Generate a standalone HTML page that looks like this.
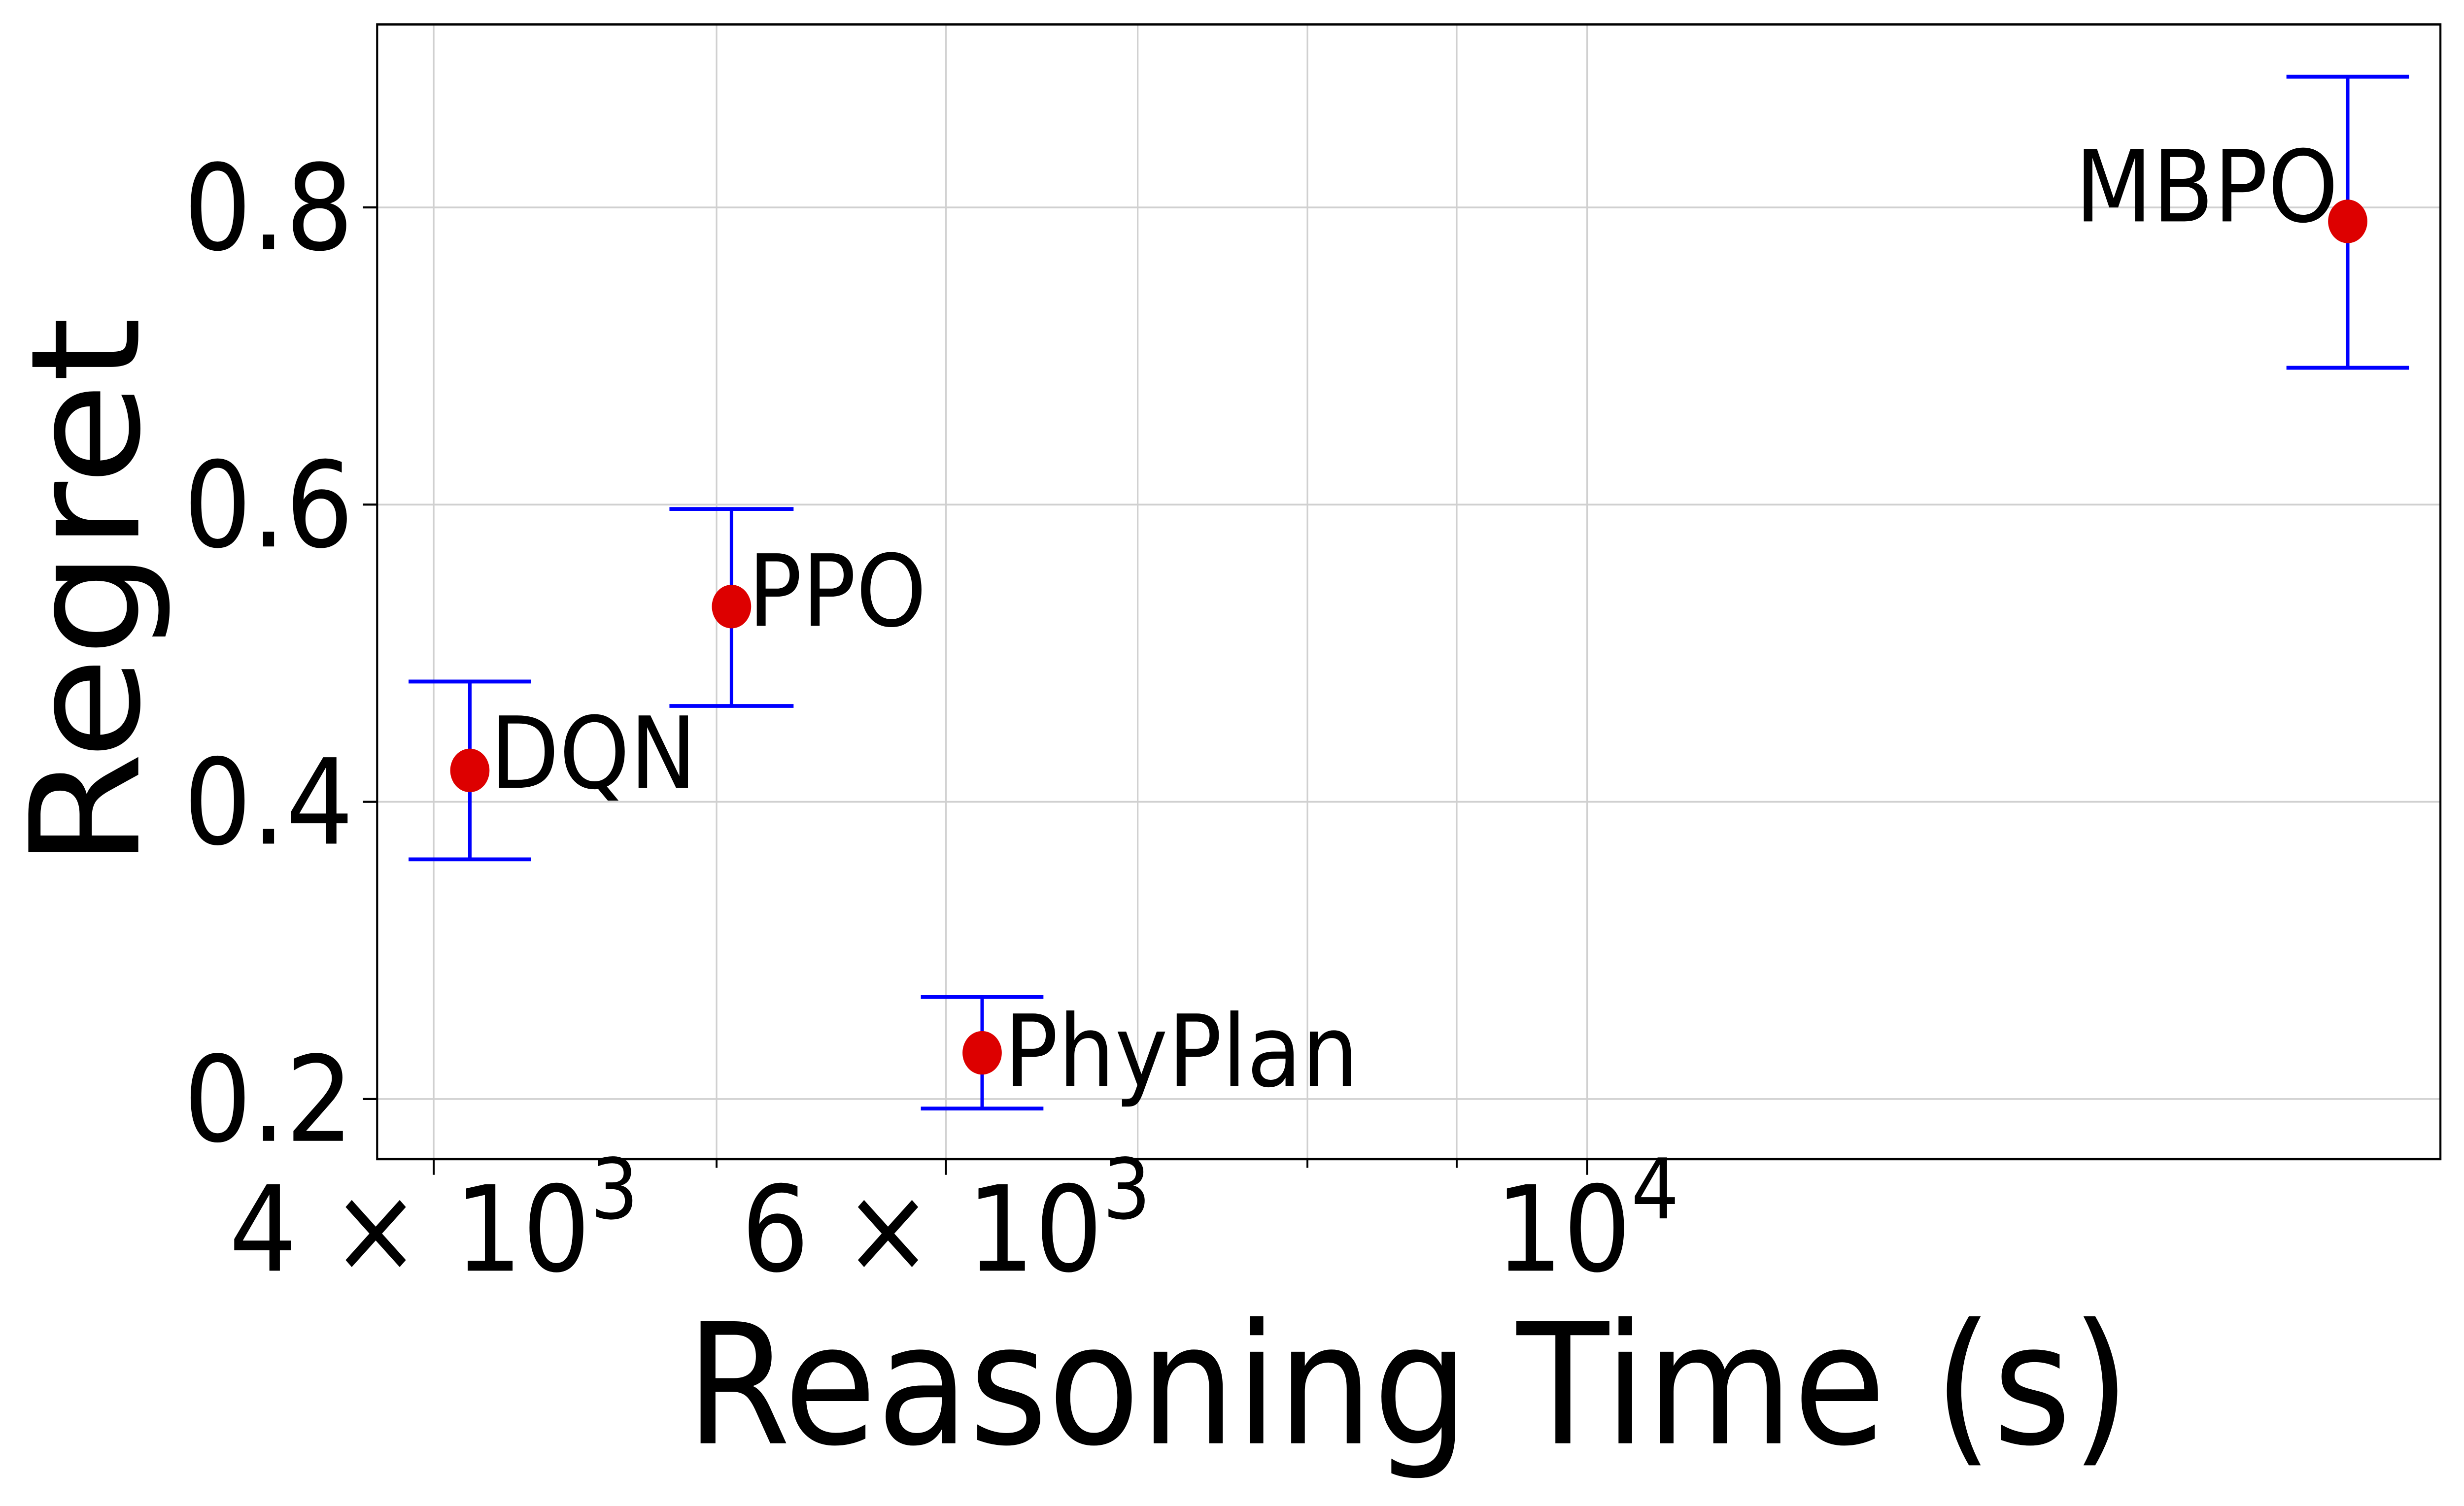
<!DOCTYPE html>
<html><head><meta charset="utf-8"><style>html,body{margin:0;padding:0;background:#fff;overflow:hidden;width:100%;height:100%}svg{display:block;position:fixed;left:0;top:0;width:100vw;height:100vh}</style></head>
<body>
<svg xmlns="http://www.w3.org/2000/svg" viewBox="0 0 1568 864" preserveAspectRatio="none" font-family="'DejaVu Sans','Liberation Sans',sans-serif">
<rect width="1568" height="864" fill="#fff"/>
<g stroke="#d0d0d0" stroke-width="1">
<line x1="276" y1="14" x2="276" y2="665"/>
<line x1="456" y1="14" x2="456" y2="665"/>
<line x1="602" y1="14" x2="602" y2="665"/>
<line x1="724" y1="14" x2="724" y2="665"/>
<line x1="832" y1="14" x2="832" y2="665"/>
<line x1="927" y1="14" x2="927" y2="665"/>
<line x1="1010" y1="14" x2="1010" y2="665"/>
<line x1="240" y1="119" x2="1553" y2="119"/>
<line x1="240" y1="289.5" x2="1553" y2="289.5"/>
<line x1="240" y1="460" x2="1553" y2="460"/>
<line x1="240" y1="630.5" x2="1553" y2="630.5"/>
</g>
<g stroke="#000" stroke-width="1.2">
<line x1="276" y1="665" x2="276" y2="674"/>
<line x1="456" y1="665" x2="456" y2="670"/>
<line x1="602" y1="665" x2="602" y2="674"/>
<line x1="724" y1="665" x2="724" y2="670"/>
<line x1="832" y1="665" x2="832" y2="670"/>
<line x1="927" y1="665" x2="927" y2="670"/>
<line x1="1010" y1="665" x2="1010" y2="674"/>
<line x1="231" y1="119" x2="240" y2="119"/>
<line x1="231" y1="289.5" x2="240" y2="289.5"/>
<line x1="231" y1="460" x2="240" y2="460"/>
<line x1="231" y1="630.5" x2="240" y2="630.5"/>
</g>
<rect x="240" y="14" width="1313" height="651" fill="none" stroke="#000" stroke-width="1.3"/>
<g stroke="#0000ff" stroke-width="2.2" fill="none">
<path d="M299 391V493M260 391H338M260 493H338"/>
<path d="M465.5 292V405M426 292H505M426 405H505"/>
<path d="M625 572V636M586 572H664M586 636H664"/>
<path d="M1494 44V211M1455 44H1533M1455 211H1533"/>
</g>
<g fill="#dd0000">
<circle cx="299" cy="442" r="12.5"/>
<circle cx="465.5" cy="348" r="12.5"/>
<circle cx="625" cy="604" r="12.5"/>
<circle cx="1494" cy="127" r="12.5"/>
</g>
<g font-size="57" fill="#000">
<text x="312" y="452">DQN</text>
<text x="476" y="359">PPO</text>
<text x="639" y="623">PhyPlan</text>
<text x="1488" y="127" text-anchor="end">MBPO</text>
</g>
<g font-size="68" fill="#000" text-anchor="end">
<text x="225" y="143">0.8</text>
<text x="225" y="313.5">0.6</text>
<text x="225" y="484">0.4</text>
<text x="225" y="654.5">0.2</text>
</g>
<g font-size="68" fill="#000" text-anchor="middle">
<text x="276" y="729">4 × 10<tspan font-size="48" dy="-30">3</tspan></text>
<text x="602" y="729">6 × 10<tspan font-size="48" dy="-30">3</tspan></text>
<text x="1010" y="729">10<tspan font-size="48" dy="-30">4</tspan></text>
</g>
<text x="896" y="828" font-size="96" text-anchor="middle" fill="#000">Reasoning Time (s)</text>
<text transform="translate(88,340) rotate(-90)" font-size="96" text-anchor="middle" fill="#000">Regret</text>
</svg>
</body></html>
